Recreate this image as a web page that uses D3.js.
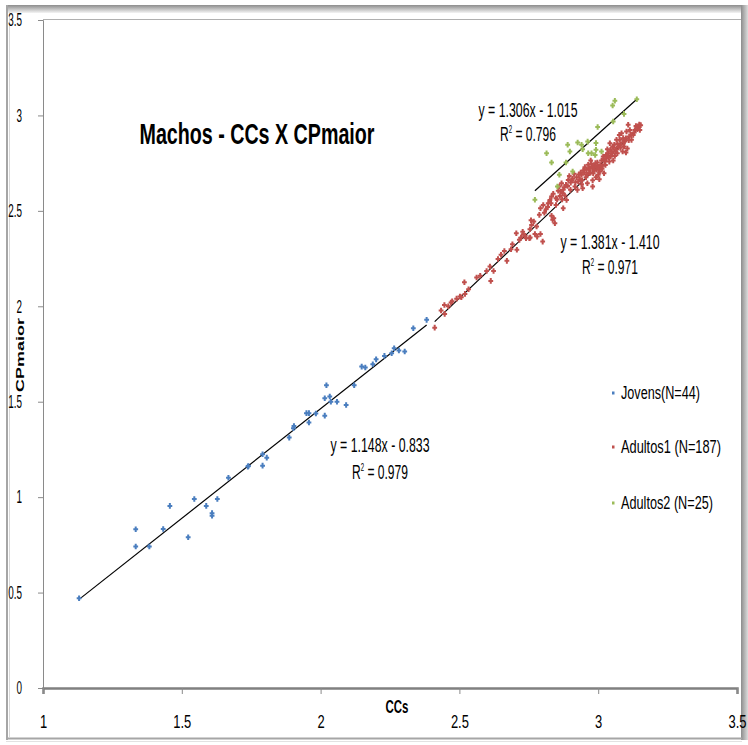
<!DOCTYPE html>
<html>
<head>
<meta charset="utf-8">
<script src="https://cdn.jsdelivr.net/npm/d3@7"></script>
<style>
  html, body { margin: 0; padding: 0; background: #fff; }
  svg { display: block; }
  text { font-family: "Liberation Sans", Arial, sans-serif; fill: #000; }
</style>
</head>
<body>
<svg id="chart" width="748" height="745"></svg>
<script>
// Series names and colours
const seriesNames = ["Jovens(N=44)", "Adultos1 (N=187)", "Adultos2 (N=25)"];
const seriesColors = ["#4a7ebf", "#c0504d", "#9bbb59"];

// Jovens: [CCs, CPmaior]
const jovens = [
  [1.130,0.470],[1.334,0.832],[1.334,0.741],[1.383,0.741],[1.433,0.833],[1.457,0.954],
  [1.523,0.790],[1.545,0.990],[1.588,0.954],[1.609,0.916],[1.609,0.903],[1.628,0.990],
  [1.668,1.102],[1.740,1.163],[1.738,1.160],[1.791,1.225],[1.791,1.165],[1.806,1.207],
  [1.887,1.312],[1.902,1.361],[1.904,1.373],[1.949,1.440],[1.958,1.440],[1.958,1.391],
  [1.983,1.438],[2.015,1.427],[2.015,1.518],[2.021,1.586],[2.033,1.527],[2.037,1.500],
  [2.059,1.500],[2.092,1.483],[2.121,1.586],[2.148,1.684],[2.161,1.679],[2.188,1.696],
  [2.200,1.722],[2.230,1.740],[2.256,1.754],[2.265,1.780],[2.282,1.768],[2.303,1.763],
  [2.334,1.885],[2.382,1.929]
];

// Adultos1: [CCs, CPmaior]
const adultos1 = [
  [2.411,1.888],[2.434,1.978],[2.447,1.960],[2.446,2.007],[2.460,2.000],[2.470,2.020],
  [2.474,2.026],[2.502,2.051],[2.507,2.047],[2.520,2.065],[2.518,2.126],[2.533,2.089],
  [2.562,2.151],[2.598,2.185],[2.613,2.133],[2.610,2.208],[2.623,2.185],[2.639,2.248],
  [2.671,2.238],[2.662,2.290],[2.686,2.299],[2.691,2.325],[2.707,2.296],[2.705,2.383],
  [2.716,2.348],[2.722,2.360],[2.730,2.378],[2.737,2.369],[2.740,2.357],[2.752,2.357],
  [2.755,2.360],[2.754,2.404],[2.758,2.451],
  [2.760,2.426],[2.768,2.444],[2.778,2.418],[2.772,2.379],[2.780,2.365],[2.792,2.379],
  [2.800,2.339],[2.788,2.479],[2.792,2.514],[2.802,2.531],[2.812,2.509],[2.820,2.540],
  [2.826,2.557],[2.832,2.474],[2.836,2.453],[2.840,2.461],[2.844,2.435],[2.848,2.531],
  [2.832,2.575],[2.838,2.589],[2.848,2.566],[2.856,2.606],[2.862,2.578],[2.860,2.627],
  [2.868,2.645],[2.874,2.610],[2.878,2.624],[2.884,2.636],[2.872,2.592],[2.886,2.557],
  [2.874,2.514],[2.892,2.662],[2.896,2.683],[2.901,2.648],[2.908,2.669],[2.913,2.694],
  [2.916,2.627],[2.922,2.676],[2.925,2.610],[2.928,2.654],[2.934,2.666],[2.937,2.701],
  [2.940,2.689],[2.944,2.619],[2.946,2.711],[2.952,2.729],[2.956,2.676],[2.958,2.715],
  [2.961,2.645],[2.964,2.741],[2.968,2.697],[2.970,2.723],[2.973,2.764],[2.976,2.746],
  [2.980,2.627],[2.982,2.697],[2.985,2.718],[2.988,2.736],[2.992,2.676],[2.994,2.715],
  [2.997,2.753],[3.000,2.689],[3.004,2.666],[3.006,2.706],[3.009,2.729],[3.012,2.764],
  [3.016,2.736],[3.018,2.785],[3.021,2.697],[3.024,2.758],[3.028,2.793],[3.030,2.776],
  [3.033,2.823],[3.036,2.802],[3.040,2.758],[3.042,2.854],[3.045,2.785],[3.048,2.811],
  [3.052,2.837],[3.054,2.764],[3.058,2.846],[3.060,2.788],[3.064,2.820],[3.066,2.872],
  [3.069,2.802],[3.072,2.834],[3.076,2.898],[3.078,2.872],[3.081,2.846],[3.084,2.907],
  [3.088,2.811],[3.090,2.881],[3.093,2.837],[3.096,2.863],[3.100,2.806],[3.102,2.916],
  [3.105,2.827],[3.108,2.951],[3.112,2.889],[3.114,2.924],[3.120,2.872],[3.126,2.898],
  [3.132,2.924],[3.136,2.945],[3.141,2.928],[3.145,2.938],[3.148,2.952],[3.150,2.924],
  [3.153,2.949],
  [2.806,2.490],[2.818,2.520],[2.830,2.540],[2.852,2.560],[2.866,2.600],[2.880,2.580],
  [2.890,2.630],[2.900,2.610],[2.905,2.660],[2.918,2.650],[2.930,2.690],[2.942,2.660],
  [2.950,2.700],[2.960,2.690],[2.966,2.720],[2.972,2.700],[2.978,2.730],[2.984,2.710],
  [2.990,2.750],[2.996,2.730],[3.002,2.720],[3.008,2.740],[3.014,2.720],[3.020,2.770],
  [3.026,2.740],[3.032,2.790],[3.038,2.780],[3.044,2.820],[3.050,2.800],[3.056,2.830],
  [3.062,2.810],[3.070,2.850],[3.080,2.830],[3.090,2.860],[3.100,2.880],[3.110,2.870],
  [3.118,2.900],[3.130,2.910],[2.940,2.640],[2.870,2.560],[2.980,2.660],[2.575,2.160],
  [2.650,2.270],[2.490,2.040],[2.728,2.390]
];

// Adultos2: [CCs, CPmaior]
const adultos2 = [
  [2.772,2.558],[2.814,2.802],[2.832,2.753],[2.853,2.628],[2.860,2.689],[2.884,2.753],
  [2.890,2.846],[2.898,2.811],[2.908,2.706],[2.926,2.858],[2.940,2.846],[2.944,2.823],
  [2.962,2.863],[2.964,2.802],[2.976,2.802],[2.989,2.793],[2.992,2.855],[2.992,2.820],
  [2.998,2.939],[3.012,2.811],[3.052,3.052],[3.054,2.968],[3.060,3.077],[3.093,3.008],
  [3.139,3.085]
];

// Linear trendlines: slope, intercept, x range, R²
const trendSlopes = [1.148, 1.381, 1.306];
const trendIntercepts = [-0.833, -1.410, -1.015];
const trendRanges = [[1.130, 2.382], [2.411, 3.153], [2.772, 3.139]];
const trendR2 = [0.979, 0.971, 0.796];

// Axis ticks
const xTicks = [1, 1.5, 2, 2.5, 3, 3.5];
const xTickLabels = ["1", "1.5", "2", "2.5", "3", "3.5"];
const yTicks = [0, 0.5, 1, 1.5, 2, 2.5, 3, 3.5];
const yTickLabels = ["0", "0.5", "1", "1.5", "2", "2.5", "3", "3.5"];

const titleText = "Machos - CCs X CPmaior";
const xTitle = "CCs";
const yTitle = "CPmaior";

const svg = d3.select("#chart");
const W = 748, H = 745;

// squeeze text horizontally (the chart uses a tall, condensed face)
function condense(sel, k) {
  sel.each(function () {
    const w = this.getComputedTextLength();
    d3.select(this).attr("textLength", w * k).attr("lengthAdjust", "spacingAndGlyphs");
  });
  return sel;
}
function fitWidth(sel, w) {
  return sel.attr("textLength", w).attr("lengthAdjust", "spacingAndGlyphs");
}

// ---- outer frame with soft shadow ----
const defs = svg.append("defs");
const gTop = defs.append("linearGradient").attr("id", "gTop").attr("x1", 0).attr("y1", 0).attr("x2", 0).attr("y2", 1);
gTop.append("stop").attr("offset", 0).attr("stop-color", "#8c8c8c");
gTop.append("stop").attr("offset", 1).attr("stop-color", "#f4f4f4");
const gRight = defs.append("linearGradient").attr("id", "gRight").attr("x1", 0).attr("y1", 0).attr("x2", 1).attr("y2", 0);
gRight.append("stop").attr("offset", 0).attr("stop-color", "#8c8c8c");
gRight.append("stop").attr("offset", 1).attr("stop-color", "#dcdcdc");

svg.append("rect").attr("width", W).attr("height", H).attr("fill", "#fff");
svg.append("rect").attr("x", 6).attr("y", 5).attr("width", 736).attr("height", 8).attr("fill", "url(#gTop)");
svg.append("rect").attr("x", 741).attr("y", 5).attr("width", 7).attr("height", 735).attr("fill", "url(#gRight)");
svg.append("line").attr("x1", 7).attr("x2", 7).attr("y1", 5).attr("y2", 740).attr("stroke", "#a6a6a6").attr("stroke-width", 2);
svg.append("line").attr("x1", 9.5).attr("x2", 9.5).attr("y1", 12).attr("y2", 737).attr("stroke", "#d8d8d8").attr("stroke-width", 1);
svg.append("line").attr("x1", 6).attr("x2", 742).attr("y1", 738.5).attr("y2", 738.5).attr("stroke", "#a6a6a6").attr("stroke-width", 2);
svg.append("line").attr("x1", 6).attr("x2", 742).attr("y1", 741.5).attr("y2", 741.5).attr("stroke", "#e2e2e2").attr("stroke-width", 1);

// ---- scales ----
const x = d3.scaleLinear().domain([1, 3.5]).range([43, 737]);
const y = d3.scaleLinear().domain([0, 3.5]).range([688, 20]);

// plot top edge
svg.append("line").attr("x1", 43).attr("x2", 741).attr("y1", 19.5).attr("y2", 19.5).attr("stroke", "#b0b0b0").attr("stroke-width", 1);

// ---- axes ----
const yAxis = d3.axisLeft(y).tickValues(yTicks).tickFormat((d, i) => yTickLabels[i]).tickSize(5).tickPadding(16);
const gy = svg.append("g").attr("transform", `translate(${x(1)},0)`).call(yAxis);
gy.select(".domain").attr("stroke", "#8a8a8a").attr("stroke-width", 1);
gy.selectAll(".tick line").attr("stroke", "#8a8a8a");
gy.selectAll("text").style("font-size", "18px").style("font-family", "'Liberation Sans', sans-serif")
  .attr("fill", "#000").attr("text-anchor", "end");
condense(gy.selectAll("text"), 0.55);

const xAxis = d3.axisBottom(x).tickValues(xTicks).tickFormat((d, i) => xTickLabels[i]).tickSize(6).tickPadding(21);
const gx = svg.append("g").attr("transform", `translate(0,${y(0)})`).call(xAxis);
gx.select(".domain").attr("stroke", "#808080").attr("stroke-width", 2.5);
gx.selectAll(".tick line").attr("stroke", "#8a8a8a");
gx.selectAll("text").style("font-size", "18px").style("font-family", "'Liberation Sans', sans-serif").attr("fill", "#000");
condense(gx.selectAll("text"), 0.72);

// axis titles
fitWidth(svg.append("text").attr("x", 397).attr("y", 713).attr("text-anchor", "middle")
  .style("font-size", "18px").style("font-weight", "bold").text(xTitle), 23);
svg.append("text").attr("transform", "translate(24,355) scale(0.62,1) rotate(-90)").attr("text-anchor", "middle")
  .style("font-size", "18px").style("font-weight", "bold").text(yTitle);

// chart title
fitWidth(svg.append("text").attr("x", 257).attr("y", 144).attr("text-anchor", "middle")
  .style("font-size", "29px").style("font-weight", "bold").text(titleText), 235);

// ---- trendlines ----
const lineGen = d3.line().x(d => x(d[0])).y(d => y(d[1]));
trendSlopes.forEach((m, i) => {
  const pts = trendRanges[i].map(v => [v, m * v + trendIntercepts[i]]);
  svg.append("path").attr("d", lineGen(pts)).attr("fill", "none").attr("stroke", "#000").attr("stroke-width", 1.2);
});

// ---- points ----
const plus = "M-1,-2.8H1V-1H2.4V1H1V2.8H-1V1H-2.4V-1H-1Z";
[jovens, adultos1, adultos2].forEach((data, i) => {
  svg.append("g").selectAll("path").data(data).join("path")
    .attr("d", plus)
    .attr("transform", d => `translate(${x(d[0])},${y(d[1])})`)
    .attr("fill", seriesColors[i]);
});

// ---- equation labels: [equation centre x, centre y, R² left x, R² centre y] ----
const eqLayout = [[380, 445, 352, 472], [610, 242, 582, 267], [528, 110, 500, 134]];
const fmt3 = d3.format(".3f");
trendSlopes.forEach((m, i) => {
  const b = trendIntercepts[i];
  const L = eqLayout[i];
  const eq = `y = ${fmt3(m)}x - ${fmt3(Math.abs(b))}`;
  fitWidth(svg.append("text").attr("x", L[0]).attr("y", L[1] + 7).attr("text-anchor", "middle")
    .style("font-size", "20px").text(eq), 99);
  const r = svg.append("text").attr("x", L[2]).attr("y", L[3] + 7).style("font-size", "20px");
  r.append("tspan").text("R");
  r.append("tspan").attr("dy", -8).style("font-size", "10px").text("2");
  r.append("tspan").attr("dy", 8).text(` = ${fmt3(trendR2[i])}`);
  fitWidth(r, 56);
});

// ---- legend ----
const legendY = [393, 447, 503];
const legendW = [79, 100, 92];
const legend = svg.append("g");
seriesNames.forEach((name, i) => {
  const ly = legendY[i];
  legend.append("rect").attr("x", 612).attr("y", ly - 1.5).attr("width", 2.5).attr("height", 3).attr("fill", seriesColors[i]);
  fitWidth(legend.append("text").attr("x", 621).attr("y", ly + 6).style("font-size", "18px").text(name), legendW[i]);
});
</script>
</body>
</html>
